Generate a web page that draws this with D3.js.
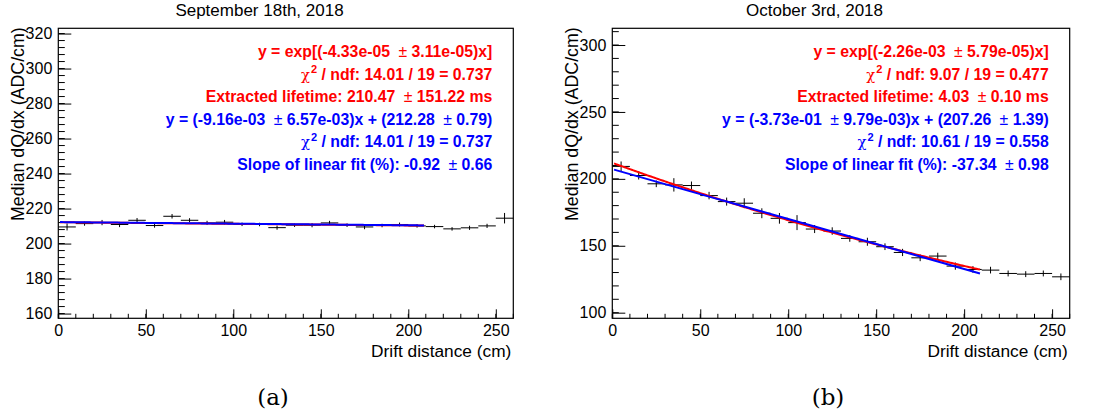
<!DOCTYPE html>
<html>
<head>
<meta charset="utf-8">
<script src="https://cdn.jsdelivr.net/npm/d3@7"></script>
<style>
  body { margin: 0; background: #fff; }
  svg { display: block; }
</style>
</head>
<body>
<svg id="chart" width="1096" height="418"></svg>
<script>
// Drift-distance bins (cm), 10 cm wide
const driftBins = [5, 15, 25, 35, 45, 55, 65, 75, 85, 95, 105, 115, 125,
                   135, 145, 155, 165, 175, 185, 195, 205, 215, 225, 235, 245, 255];
const binHalfWidth = 5;

// September 18th, 2018 run: median dQ/dx per bin and its uncertainty
const sepMedian = [209.5, 211.4, 212.0, 210.9, 213.3, 210.3, 215.6, 213.3, 211.8, 212.2,
                   211.0, 210.9, 209.1, 210.5, 210.5, 211.8, 210.5, 209.5, 210.3, 210.9,
                   210.1, 209.7, 208.4, 209.0, 210.1, 214.5];
const sepError  = [2.0, 1.2, 1.5, 1.5, 1.3, 1.2, 1.3, 1.2, 1.2, 1.3,
                   1.0, 1.0, 1.2, 1.0, 1.2, 1.2, 1.0, 1.3, 1.0, 1.1,
                   1.0, 1.0, 1.0, 1.2, 1.2, 3.0];

// October 3rd, 2018 run
const octMedian = [209.3, 202.5, 196.3, 195.5, 195.0, 187.5, 183.0, 181.8, 174.3, 170.5,
                   167.3, 162.5, 161.0, 155.5, 153.0, 149.3, 145.0, 141.0, 142.3, 134.8,
                   132.3, 131.8, 129.3, 128.8, 129.3, 126.8];
const octError  = [3.7, 3.0, 2.5, 5.0, 3.0, 2.8, 3.0, 3.7, 3.7, 4.0,
                   5.6, 3.0, 2.8, 2.5, 3.0, 2.5, 2.7, 2.5, 2.5, 2.7,
                   2.5, 2.5, 2.2, 2.2, 2.2, 2.5];

// Tick labels
const xTicks = [0, 50, 100, 150, 200, 250];
const sepYTicks = [160, 180, 200, 220, 240, 260, 280, 300, 320];
const octYTicks = [100, 150, 200, 250, 300];

// Fit results (exponential and linear), fitted over the first 210 cm
const fitRange = [1, 209];
const sepExpFit = [212.2, -4.33e-05];      // [norm, slope]
const sepLinFit = [212.28, -9.16e-03];     // [intercept, slope]
const octExpFit = [212.0, -2.26e-03];
const octLinFit = [207.26, -3.73e-01];

// Fit statistics text
const sepExpText = ["y = exp[(-4.33e-05 \u00b1 3.11e-05)x]",
                    "\u03c72 / ndf: 14.01 / 19 = 0.737",
                    "Extracted lifetime: 210.47 \u00b1 151.22 ms"];
const sepLinText = ["y = (-9.16e-03 \u00b1 6.57e-03)x + (212.28 \u00b1 0.79)",
                    "\u03c72 / ndf: 14.01 / 19 = 0.737",
                    "Slope of linear fit (%): -0.92 \u00b1 0.66"];
const octExpText = ["y = exp[(-2.26e-03 \u00b1 5.79e-05)x]",
                    "\u03c72 / ndf: 9.07 / 19 = 0.477",
                    "Extracted lifetime: 4.03 \u00b1 0.10 ms"];
const octLinText = ["y = (-3.73e-01 \u00b1 9.79e-03)x + (207.26 \u00b1 1.39)",
                    "\u03c72 / ndf: 10.61 / 19 = 0.558",
                    "Slope of linear fit (%): -37.34 \u00b1 0.98"];

const svg = d3.select("#chart");
const FONT = "'Liberation Sans', Arial, Helvetica, sans-serif";

const panels = [
  { title: "September 18th, 2018", titleX: 259.5, caption: "(a)", captionX: 273,
    left: 58.3, right: 513.3, yDomain: [157.3, 323], yTicks: sepYTicks, yMinor: 4,
    values: sepMedian, errors: sepError, expFit: sepExpFit, linFit: sepLinFit,
    expText: sepExpText, linText: sepLinText },
  { title: "October 3rd, 2018", titleX: 814.5, caption: "(b)", captionX: 828,
    left: 612.3, right: 1069.7, yDomain: [95.8, 312.5], yTicks: octYTicks, yMinor: 10,
    values: octMedian, errors: octError, expFit: octExpFit, linFit: octLinFit,
    expText: octExpText, linText: octLinText }
];

const frameTop = 28.3, frameBottom = 318.3;
const STAT_SIZE = 15.8;
const TICK_SIZE = 16;

// Writes one statistics line, rendering the ± and χ² symbols in a plain weight
function statLine(g, str, x, y, color) {
  const t = g.append("text")
    .attr("x", x).attr("y", y)
    .attr("text-anchor", "end")
    .attr("fill", color)
    .attr("font-family", FONT)
    .attr("font-weight", "bold")
    .attr("font-size", STAT_SIZE);
  let rest = str;
  if (rest.startsWith("\u03c72")) {
    t.append("tspan").attr("font-weight", "normal").attr("font-family", "'DejaVu Serif', serif")
      .attr("font-size", STAT_SIZE - 1).text("\u03c7");
    t.append("tspan").attr("font-size", 11).attr("dy", -6.5).attr("dx", 1).text("2");
    rest = rest.slice(2);
    t.append("tspan").attr("dy", 6.5).text(rest);
    return;
  }
  const parts = rest.split("\u00b1");
  parts.forEach((p, i) => {
    if (i > 0) t.append("tspan").attr("font-weight", "normal").attr("dx", 4).text("\u00b1 ");
    t.append("tspan").text(p + (i < parts.length - 1 ? " " : ""));
  });
}

panels.forEach(p => {
  const g = svg.append("g");
  const x = d3.scaleLinear().domain([0, 260]).range([p.left, p.right]);
  const y = d3.scaleLinear().domain(p.yDomain).range([frameBottom, frameTop]);

  // Title
  g.append("text").attr("x", p.titleX).attr("y", 16).attr("text-anchor", "middle")
    .attr("font-family", FONT).attr("font-size", 17).text(p.title);

  // Frame
  g.append("rect").attr("x", p.left).attr("y", frameTop)
    .attr("width", p.right - p.left).attr("height", frameBottom - frameTop)
    .attr("fill", "none").attr("stroke", "#000").attr("stroke-width", 1.2);

  // X axis: major ticks with labels, minor ticks every 10 cm
  const xMinor = d3.range(0, 260.01, 10);
  g.selectAll(".xminor").data(xMinor).join("line")
    .attr("x1", d => x(d)).attr("x2", d => x(d))
    .attr("y1", frameBottom).attr("y2", frameBottom - 4.5)
    .attr("stroke", "#000");
  const xAxis = d3.axisBottom(x).tickValues(xTicks).tickSize(-9).tickPadding(6)
    .tickFormat(d3.format("d"));
  const xg = g.append("g").attr("transform", `translate(0,${frameBottom})`).call(xAxis);
  xg.select(".domain").remove();
  xg.selectAll("text").attr("font-family", FONT).attr("font-size", TICK_SIZE).attr("fill", "#000");
  xg.selectAll("line").attr("stroke", "#000");

  // Y axis
  const yMinor = d3.range(Math.ceil(p.yDomain[0] / p.yMinor) * p.yMinor, p.yDomain[1], p.yMinor);
  g.selectAll(".yminor").data(yMinor).join("line")
    .attr("x1", p.left).attr("x2", p.left + 6.5)
    .attr("y1", d => y(d)).attr("y2", d => y(d))
    .attr("stroke", "#000");
  const yAxis = d3.axisLeft(y).tickValues(p.yTicks).tickSize(-13).tickPadding(6)
    .tickFormat(d3.format("d"));
  const yg = g.append("g").attr("transform", `translate(${p.left},0)`).call(yAxis);
  yg.select(".domain").remove();
  yg.selectAll("text").attr("font-family", FONT).attr("font-size", TICK_SIZE).attr("fill", "#000");
  yg.selectAll("line").attr("stroke", "#000");

  // Axis titles
  g.append("text").attr("x", p.right - 2).attr("y", 356.5).attr("text-anchor", "end")
    .attr("font-family", FONT).attr("font-size", 17.3).text("Drift distance (cm)");
  g.append("text")
    .attr("transform", `translate(${p.left - 34},${frameTop - 1}) rotate(-90)`)
    .attr("text-anchor", "end")
    .attr("font-family", FONT).attr("font-size", 17.8).text("Median dQ/dx (ADC/cm)");

  // Data points with error bars
  const pts = driftBins.map((b, i) => ({ b, v: p.values[i], e: p.errors[i] }));
  const pg = g.append("g").attr("stroke", "#000").attr("stroke-width", 1);
  pg.selectAll(".hbar").data(pts).join("line")
    .attr("x1", d => x(d.b - binHalfWidth)).attr("x2", d => x(d.b + binHalfWidth))
    .attr("y1", d => y(d.v)).attr("y2", d => y(d.v));
  pg.selectAll(".vbar").data(pts).join("line")
    .attr("x1", d => x(d.b)).attr("x2", d => x(d.b))
    .attr("y1", d => y(d.v - d.e)).attr("y2", d => y(d.v + d.e));

  // Fit curves: exponential (red) then linear (blue)
  const fx = d3.range(fitRange[0], fitRange[1] + 0.01, 1);
  const line = d3.line().x(d => x(d[0])).y(d => y(d[1]));
  g.append("path")
    .datum(fx.map(t => [t, p.expFit[0] * Math.exp(p.expFit[1] * t)]))
    .attr("d", line).attr("fill", "none").attr("stroke", "#ff0000").attr("stroke-width", 2);
  g.append("path")
    .datum(fx.map(t => [t, p.linFit[0] + p.linFit[1] * t]))
    .attr("d", line).attr("fill", "none").attr("stroke", "#0000ff").attr("stroke-width", 2);

  // Fit statistics
  const tx = p.right - 21;
  const lineY = [57, 79.6, 102.2, 124.8, 147.4, 170];
  p.expText.forEach((s, i) => statLine(g, s, tx, lineY[i], "#ff0000"));
  p.linText.forEach((s, i) => statLine(g, s, tx, lineY[i + 3], "#0000ff"));

  // Sub-figure caption
  g.append("text").attr("x", p.captionX).attr("y", 405).attr("text-anchor", "middle")
    .attr("font-family", "'DejaVu Serif', 'Liberation Serif', serif").attr("font-size", 23)
    .attr("font-weight", 300)
    .text(p.caption);
});
</script>
</body>
</html>
